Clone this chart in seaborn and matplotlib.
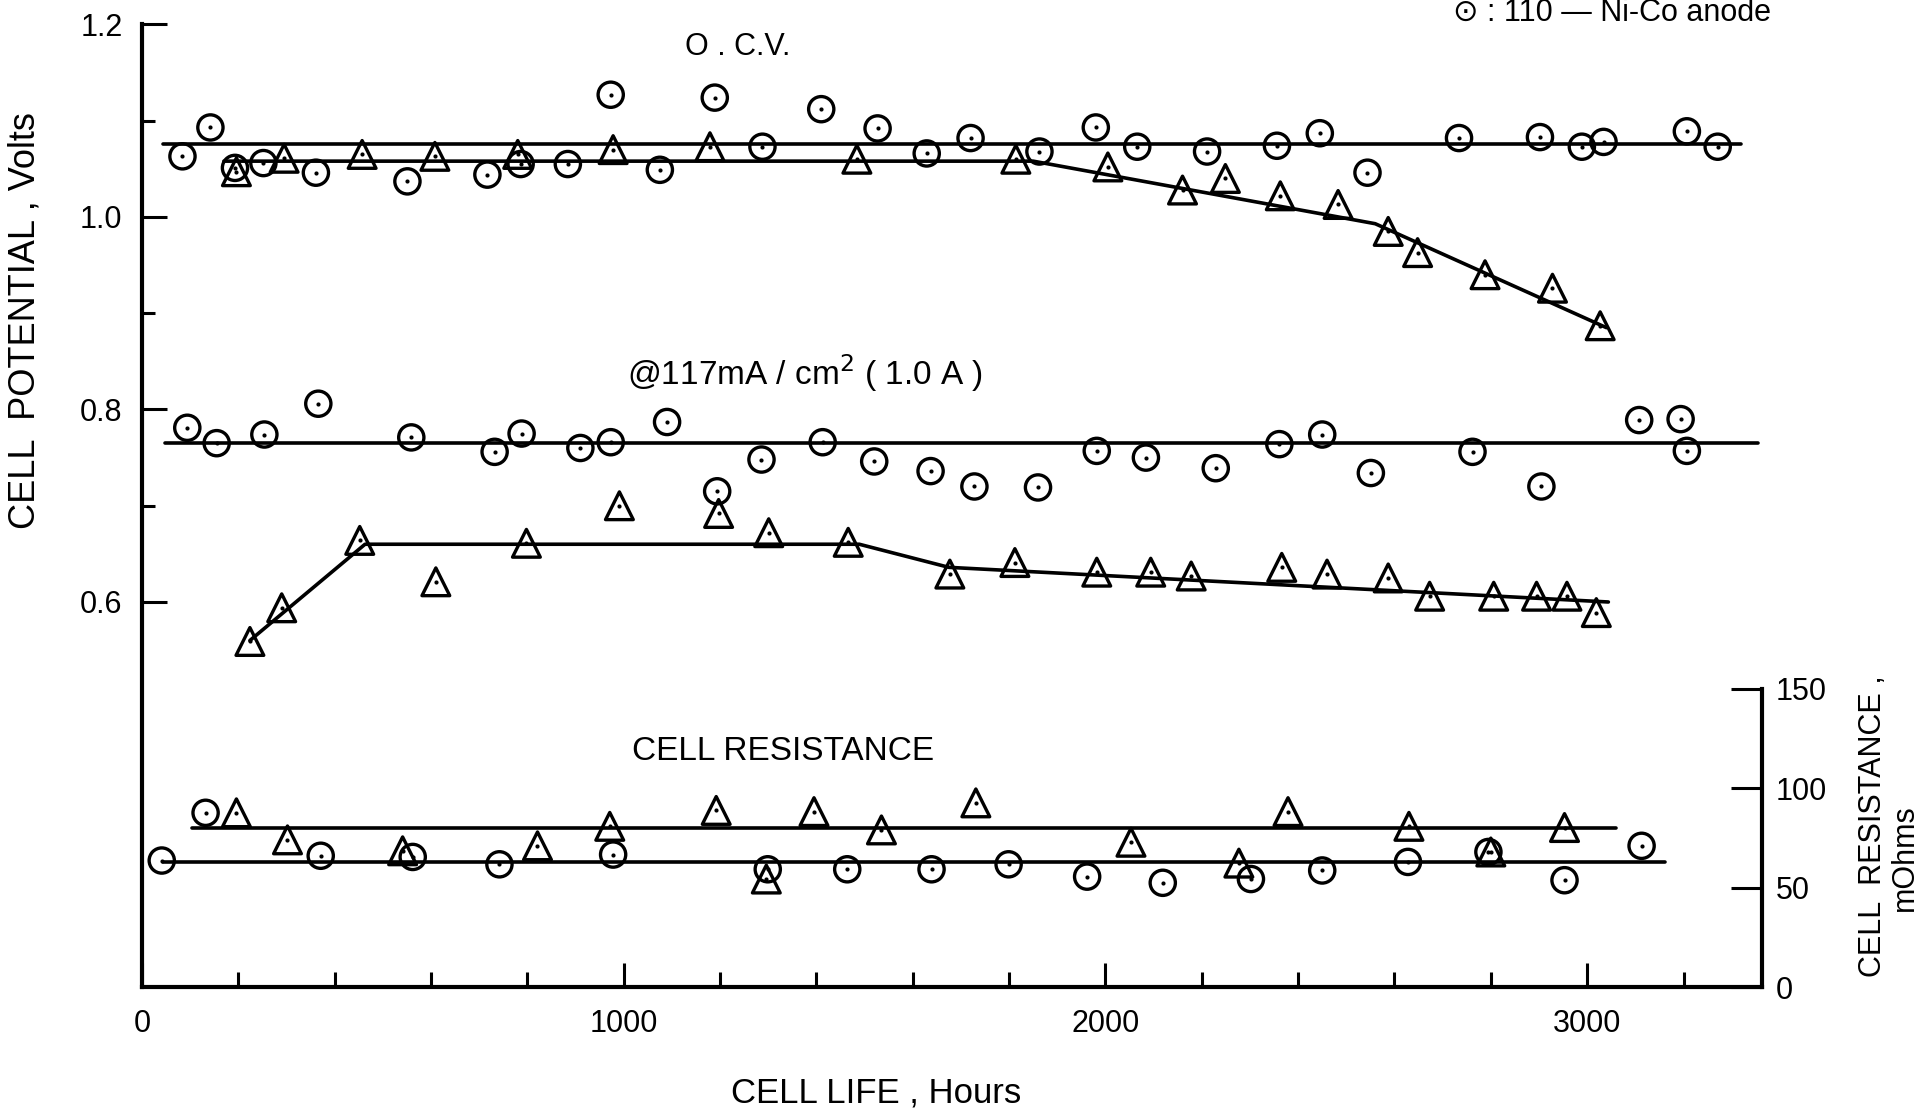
import numpy as np
import pandas as pd
import matplotlib
matplotlib.use("Agg")
import matplotlib.pyplot as plt
import seaborn as sns
from matplotlib.ticker import FixedLocator, NullFormatter

# ---------------- data ----------------
# O.C.V. - circles (110 Ni-Co anode)
ocv_circ_x = [84, 142, 193, 252, 361, 551, 717, 786, 884, 973, 1075, 1189, 1288, 1410, 1527,
              1629, 1720, 1863, 1980, 2066, 2211, 2356, 2445, 2544, 2734, 2902, 2989, 3034, 3207, 3271]
ocv_circ_y = [1.063, 1.093, 1.051, 1.056, 1.046, 1.037, 1.044, 1.055, 1.055, 1.127, 1.049, 1.124,
              1.073, 1.112, 1.092, 1.066, 1.082, 1.068, 1.093, 1.073, 1.068, 1.074, 1.087, 1.046,
              1.082, 1.083, 1.073, 1.078, 1.089, 1.073]
# O.C.V. - triangles
ocv_tri_x = [196, 295, 457, 608, 780, 978, 1179, 1484, 1814, 2005, 2160, 2249, 2363, 2483, 2587,
             2648, 2788, 2928, 3027]
ocv_tri_y = [1.047, 1.061, 1.065, 1.063, 1.065, 1.070, 1.073, 1.060, 1.060, 1.052, 1.028, 1.040,
             1.022, 1.013, 0.985, 0.963, 0.940, 0.926, 0.887]

# @117 mA/cm2 - circles
load_circ_x = [94, 155, 254, 366, 559, 732, 788, 910, 973, 1090, 1194, 1286, 1413, 1520, 1637,
               1728, 1860, 1982, 2084, 2229, 2361, 2450, 2551, 2762, 2905, 3108, 3194, 3207]
load_circ_y = [0.781, 0.765, 0.774, 0.806, 0.771, 0.756, 0.775, 0.760, 0.766, 0.787, 0.715, 0.748,
               0.766, 0.746, 0.736, 0.720, 0.719, 0.757, 0.750, 0.739, 0.764, 0.774, 0.734, 0.756,
               0.720, 0.789, 0.790, 0.757]
# @117 mA/cm2 - triangles
load_tri_x = [224, 290, 452, 610, 798, 991, 1197, 1301, 1466, 1677, 1812, 1982, 2094, 2178, 2366,
              2460, 2587, 2673, 2806, 2895, 2958, 3019]
load_tri_y = [0.559, 0.594, 0.664, 0.621, 0.661, 0.700, 0.692, 0.672, 0.662, 0.629, 0.641, 0.631,
              0.631, 0.627, 0.636, 0.629, 0.625, 0.606, 0.606, 0.606, 0.606, 0.589]

# Cell resistance (mOhm) - circles
res_circ_x = [41, 132, 371, 562, 742, 978, 1299, 1464, 1639, 1799, 1962, 2119, 2302, 2450, 2628,
              2795, 2953, 3113]
res_circ_y = [63.6, 87.6, 66.0, 65.4, 61.7, 66.6, 59.2, 59.2, 59.2, 61.7, 55.5, 52.4, 54.3, 58.6,
              62.9, 67.9, 53.7, 71.0]
# Cell resistance (mOhm) - triangles
res_tri_x = [196, 302, 541, 821, 971, 1192, 1296, 1395, 1535, 1731, 2053, 2277, 2379, 2630, 2800, 2953]
res_tri_y = [87.6, 74.0, 68.5, 71.0, 80.8, 88.8, 54.3, 88.2, 79.0, 92.6, 72.8, 62.3, 88.2, 80.8,
             67.9, 80.2]

# hand-drawn trend lines (break points)
ocv_circ_line_x = [43, 3320]
ocv_circ_line_y = [1.076, 1.076]
ocv_tri_line_x = [170, 1850, 2560, 3040]
ocv_tri_line_y = [1.058, 1.058, 0.993, 0.885]
load_circ_line_x = [48, 3355]
load_circ_line_y = [0.765, 0.765]
load_tri_line_x = [224, 463, 1489, 1675, 3044]
load_tri_line_y = [0.560, 0.660, 0.660, 0.636, 0.600]
res_circ_line_x = [43, 3161]
res_circ_line_y = [62.9, 62.9]
res_tri_line_x = [104, 3060]
res_tri_line_y = [80.0, 80.0]

x_major = [0, 1000, 2000, 3000]
x_minor = [200, 400, 600, 800, 1200, 1400, 1600, 1800, 2200, 2400, 2600, 2800, 3200]
y_major = [0.6, 0.8, 1.0, 1.2]
y_major_labels = ["0.6", "0.8", "1.0", "1.2"]
y_minor = [0.7, 0.9, 1.1]
r_ticks = [0, 50, 100, 150]

# ---------------- styling ----------------
sns.set_theme(style="white")
plt.rcParams["font.family"] = ["Liberation Sans", "DejaVu Sans"]
plt.rcParams["axes.linewidth"] = 3
for k in ["text.color", "axes.labelcolor", "xtick.color", "ytick.color",
          "xtick.labelcolor", "ytick.labelcolor", "axes.edgecolor"]:
    plt.rcParams[k] = "black"

fig = plt.figure(figsize=(19.19, 11.12), dpi=100)
ax = fig.add_axes([0.0740, 0.1124, 0.8442, 0.8656])
ax2 = ax.twinx()

EW = 2.4


def draw_markers(axis, x, y, marker, size):
    df = pd.DataFrame({"x": x, "y": y})
    sns.scatterplot(data=df, x="x", y="y", ax=axis, marker=marker, s=size,
                    facecolor="none", edgecolor="black", linewidth=EW, legend=False, zorder=3)
    sns.scatterplot(data=df, x="x", y="y", ax=axis, marker="o", s=9,
                    color="black", linewidth=0, legend=False, zorder=4)


def draw_line(axis, x, y):
    sns.lineplot(x=x, y=y, ax=axis, estimator=None, sort=False, color="black",
                 linewidth=2.6, legend=False, zorder=2)


draw_line(ax, ocv_circ_line_x, ocv_circ_line_y)
draw_line(ax, ocv_tri_line_x, ocv_tri_line_y)
draw_line(ax, load_circ_line_x, load_circ_line_y)
draw_line(ax, load_tri_line_x, load_tri_line_y)
draw_markers(ax, ocv_circ_x, ocv_circ_y, "o", 330)
draw_markers(ax, ocv_tri_x, ocv_tri_y, "^", 400)
draw_markers(ax, load_circ_x, load_circ_y, "o", 330)
draw_markers(ax, load_tri_x, load_tri_y, "^", 400)

draw_line(ax2, res_circ_line_x, res_circ_line_y)
draw_line(ax2, res_tri_line_x, res_tri_line_y)
draw_markers(ax2, res_circ_x, res_circ_y, "o", 330)
draw_markers(ax2, res_tri_x, res_tri_y, "^", 400)

# ---------------- axes ----------------
ax.set_xlim(0, 3363)
ax.set_ylim(0.2, 1.2)
ax2.set_ylim(0, 484)

ax.xaxis.set_major_locator(FixedLocator(x_major))
ax.xaxis.set_minor_locator(FixedLocator(x_minor))
ax.xaxis.set_minor_formatter(NullFormatter())
ax.set_xticklabels([str(v) for v in x_major])
ax.yaxis.set_major_locator(FixedLocator(y_major))
ax.yaxis.set_minor_locator(FixedLocator(y_minor))
ax.set_yticklabels(y_major_labels)
ax.yaxis.set_minor_formatter(NullFormatter())

ax.tick_params(axis="x", which="major", direction="in", length=17, width=2.2,
               labelsize=22, pad=16, bottom=True, top=False, colors="black")
ax.tick_params(axis="x", which="minor", direction="in", length=11, width=2.2,
               bottom=True, top=False, colors="black")
ax.tick_params(axis="y", which="major", direction="in", length=18, width=2.2,
               labelsize=22, pad=14, left=True, right=False, colors="black")
ax.tick_params(axis="y", which="minor", direction="in", length=9, width=2.2,
               left=True, right=False, colors="black")

ax2.yaxis.set_major_locator(FixedLocator(r_ticks))
ax2.set_yticklabels([str(v) for v in r_ticks])
ax2.tick_params(axis="y", which="major", direction="in", length=22, width=2.2,
                labelsize=22, pad=10, right=True, left=False, colors="black")

for a in (ax, ax2):
    a.set_xlabel("")
    a.set_ylabel("")
    a.spines["top"].set_visible(False)
    for s in a.spines.values():
        s.set_color("black")
        s.set_linewidth(3)
ax.spines["right"].set_visible(False)
ax2.spines["left"].set_visible(False)
ax2.spines["bottom"].set_visible(False)
ax2.spines["right"].set_bounds(0, 150)

# ---------------- text ----------------
W, H = 1919, 1112


def ftext(px, py, s, **kw):
    kw.setdefault("color", "black")
    fig.text(px / W, 1 - py / H, s, **kw)


ftext(25, 321, "CELL  POTENTIAL , Volts", rotation=90, ha="center", va="center", fontsize=26)
ftext(876, 1093, "CELL LIFE , Hours", ha="center", va="center", fontsize=25)
ftext(1873, 826, "CELL  RESISTANCE ,", rotation=90, ha="center", va="center", fontsize=22)
ftext(1905, 858, "mOhms", rotation=90, ha="center", va="center", fontsize=22)

ftext(738, 47, "O . C.V.", ha="center", va="center", fontsize=22)
ftext(805, 373, "@117mA / cm$^2$ ( 1.0 A )", ha="center", va="center", fontsize=24)
ftext(783, 752, "CELL RESISTANCE", ha="center", va="center", fontsize=24)
ftext(1453, 13, "⊙ : 110 — Ni-Co anode", ha="left", va="center", fontsize=22)

fig.savefig("out.png", dpi=100, facecolor="white")
